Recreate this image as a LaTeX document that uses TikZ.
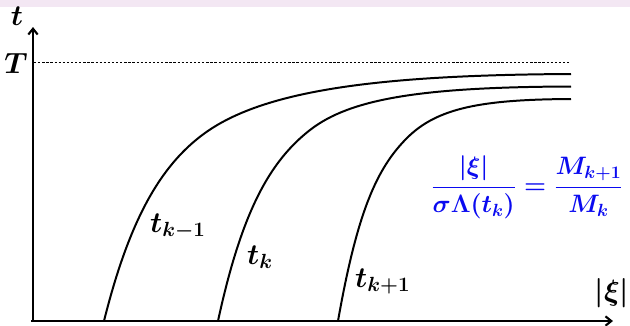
\documentclass[tikz,border=0pt]{standalone}
\usepackage{fix-cm}
\usetikzlibrary{arrows.meta}
\definecolor{bandpink}{RGB}{243,231,243}
\definecolor{formblue}{RGB}{10,10,240}

\begin{document}
\begin{tikzpicture}[
    x=0.03cm, y=-0.03cm,
    axis/.style={-{Straight Barb[length=5pt,width=8pt]}, line width=1.8pt},
    curve/.style={line width=1.7pt},
    lbl/.style={inner sep=0pt, font=\fontsize{25}{30}\selectfont\boldmath},
    formula/.style={inner sep=0pt, text=formblue, font=\fontsize{21.5}{26}\selectfont\boldmath},
    level/.style={dash pattern=on 2pt off 1.5pt, line width=0.7pt}
]
\useasboundingbox (0,0) rectangle (630,325);
\fill[bandpink] (0,0) rectangle (630,7);

% axes
\coordinate (O) at (33,321);
\coordinate (ytop) at (33,27);
\coordinate (xend) at (613,321);
\draw[axis] (O) -- (ytop);
\draw[axis] (31,321) -- (xend);
\node[lbl, anchor=base] (tlabel) at (17,25) {$t$};
\node[lbl, anchor=base] (Tlabel) at (16,73) {$T$};
\node[lbl] (xilabel) at (612,293) {$|\xi|$};

% level T
\coordinate (Tleft) at (34,62);
\coordinate (Tright) at (571,62);
\draw[level] (Tleft) -- (Tright);

% curves t_{k-1}, t_k, t_{k+1}
\draw[curve] (104,321) .. controls (129,221) and (160,165.4) .. (205,133)
    .. controls (265,89.8) and (380,75) .. (571,74);
\draw[curve] (218,321) .. controls (241.8,211) and (270,161.2) .. (310,130)
    .. controls (350,98.8) and (421,87) .. (571,86.5);
\draw[curve] (338,321) .. controls (357.4,211) and (377,168) .. (407,138)
    .. controls (437,108) and (481,99.5) .. (571,99);

\node[lbl, anchor=base west] (tkm) at (150,232) {$t_{k-1}$};
\node[lbl, anchor=base west] (tk) at (247,264) {$t_k$};
\node[lbl, anchor=base west] (tkp) at (355,287) {$t_{k+1}$};

\node[formula] (ratio) at (527,187)
    {$\displaystyle\frac{|\xi|}{\sigma\Lambda(t_k)}=\frac{M_{k+1}}{M_k}$};
\end{tikzpicture}
\end{document}
